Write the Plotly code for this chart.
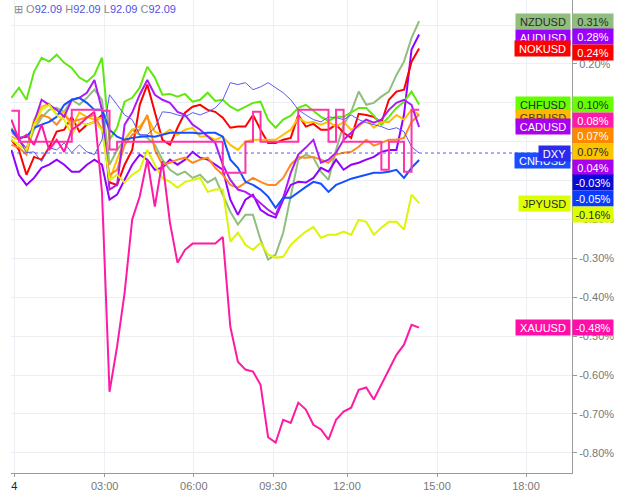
import plotly.graph_objects as go

# ---------------- data ----------------
# 15-minute bars (display index); tick labels placed at their bar position
bars = list(range(55))
x_tick_pos = [0.39, 12.36, 24.16, 34.65, 44.45, 56.37, 68.16]
x_tick_text = ['<span style="color:#222">4</span>', "03:00", "06:00", "09:30", "12:00", "15:00", "18:00"]
y_tick_vals = [-0.8, -0.7, -0.6, -0.5, -0.4, -0.3, -0.2, -0.1, 0.0, 0.1, 0.2, 0.3]
# labels that the reference leaves visible (others sit under the value boxes)
y_tick_shown = [-0.8, -0.7, -0.6, -0.5, -0.4, -0.3, -0.2, 0.2]

nzdusd = [0.036, 0.005, -0.021, 0.031, 0.062, 0.082, 0.087, 0.077, 0.108, 0.095,
          0.113, 0.134, 0.108, -0.059, -0.021, 0.005, 0.031, 0.018, 0.010, -0.008,
          -0.046, -0.072, -0.085, -0.077, -0.093, -0.085, -0.105, -0.093, -0.136, -0.180,
          -0.213, -0.188, -0.188, -0.252, -0.303, -0.290, -0.234, -0.144, -0.046, -0.033,
          -0.041, -0.077, -0.098, -0.021, 0.044, 0.077, 0.129, 0.095, 0.100, 0.116,
          0.129, 0.172, 0.206, 0.267, 0.310]
audusd = [-0.021, -0.085, -0.111, -0.093, -0.067, -0.059, -0.046, -0.059, -0.077, -0.077,
          -0.059, -0.046, -0.059, -0.149, -0.136, -0.098, -0.059, -0.033, -0.046, -0.072,
          -0.067, -0.046, -0.059, -0.046, -0.026, -0.041, -0.046, -0.059, -0.072, -0.149,
          -0.188, -0.149, -0.136, -0.175, -0.188, -0.195, -0.149, -0.111, -0.103, -0.105,
          -0.093, -0.067, -0.077, -0.046, -0.072, -0.059, -0.054, -0.046, -0.039, -0.026,
          -0.021, -0.021, 0.070, 0.237, 0.276]
nokusd = [0.005, -0.021, -0.085, -0.039, -0.046, -0.015, 0.026, 0.031, 0.064, 0.026,
          0.044, 0.051, 0.069, -0.105, -0.111, -0.059, -0.021, 0.095, 0.147, 0.077,
          0.005, -0.008, 0.036, 0.075, 0.090, 0.095, 0.082, 0.077, 0.062, 0.036,
          0.039, 0.039, 0.069, 0.031, -0.003, -0.003, 0.005, 0.010, 0.069, 0.039,
          0.046, 0.031, 0.031, 0.044, 0.023, 0.010, 0.072, 0.069, 0.064, 0.049,
          0.108, 0.129, 0.134, 0.206, 0.240]
chfusd = [0.113, 0.139, 0.108, 0.180, 0.216, 0.206, 0.224, 0.203, 0.190, 0.165,
          0.154, 0.172, 0.216, 0.005, 0.036, 0.103, 0.113, 0.139, 0.193, 0.165,
          0.121, 0.123, 0.116, 0.123, 0.103, 0.108, 0.126, 0.105, 0.108, 0.090,
          0.080, 0.090, 0.100, 0.103, 0.057, 0.036, 0.057, 0.067, 0.087, 0.095,
          0.080, 0.064, 0.054, 0.064, 0.064, 0.075, 0.087, 0.087, 0.067, 0.044,
          0.064, 0.087, 0.103, 0.129, 0.096]
sekusd = [0.080, 0.000, 0.000, 0.000, 0.000, 0.000, 0.000, 0.000, 0.082, 0.082,
          0.082, 0.082, 0.080, -0.020, 0.000, 0.000, 0.000, 0.000, 0.000, 0.000,
          0.000, 0.000, 0.000, 0.000, 0.000, 0.000, 0.000, 0.000, -0.080, -0.080,
          -0.080, 0.000, 0.077, 0.000, 0.000, 0.000, 0.000, 0.000, 0.082, 0.082,
          0.082, 0.082, 0.000, 0.082, 0.000, 0.000, 0.000, 0.000, 0.000, -0.072,
          0.000, 0.000, -0.077, 0.082, 0.082]
eurusd = [-0.008, -0.015, -0.033, 0.044, 0.069, 0.062, 0.044, 0.069, 0.051, 0.057,
          0.062, 0.069, 0.031, -0.085, -0.072, -0.008, 0.018, 0.031, 0.069, -0.021,
          -0.059, -0.054, -0.046, -0.041, -0.054, -0.046, -0.041, -0.067, -0.085, -0.111,
          -0.118, -0.105, -0.093, -0.103, -0.111, -0.111, -0.093, -0.059, -0.039, -0.041,
          -0.039, -0.046, -0.054, -0.033, -0.028, -0.026, -0.013, 0.005, -0.010, -0.003,
          0.005, 0.005, 0.010, 0.051, 0.070]
gbpusd = [0.013, 0.005, -0.021, 0.057, 0.090, 0.098, 0.069, 0.077, 0.036, 0.075,
          0.064, 0.057, 0.062, -0.098, -0.046, 0.005, 0.031, 0.039, 0.064, 0.026,
          0.018, 0.031, 0.018, 0.031, 0.036, 0.013, 0.015, 0.005, 0.013, -0.008,
          -0.021, 0.000, 0.005, 0.005, 0.005, 0.005, 0.018, 0.031, 0.062, 0.049,
          0.051, 0.044, 0.051, 0.039, 0.051, 0.031, 0.039, 0.057, 0.036, 0.051,
          0.051, 0.069, 0.057, 0.082, 0.069]
cadusd = [0.031, 0.005, -0.021, 0.049, 0.108, 0.095, 0.082, 0.064, 0.108, 0.113,
          0.126, 0.159, 0.082, -0.123, -0.111, 0.044, 0.075, 0.121, 0.159, 0.121,
          0.108, 0.100, 0.077, 0.069, 0.044, 0.031, 0.015, -0.003, -0.059, -0.098,
          -0.123, -0.129, -0.141, -0.157, -0.175, -0.188, -0.144, -0.080, -0.033, -0.015,
          0.005, -0.054, -0.046, -0.028, 0.005, 0.023, 0.044, 0.057, 0.049, 0.057,
          0.082, 0.100, 0.108, 0.095, 0.038]
dxy = [0.023, 0.005, -0.028, -0.026, -0.051, -0.015, -0.021, -0.003, -0.028, -0.008,
       -0.026, -0.033, 0.005, 0.121, 0.095, 0.069, 0.057, 0.018, 0.018, 0.036,
       0.077, 0.075, 0.069, 0.064, 0.075, 0.069, 0.077, 0.087, 0.108, 0.152,
       0.147, 0.152, 0.134, 0.141, 0.152, 0.139, 0.126, 0.108, 0.082, 0.069,
       0.057, 0.051, 0.064, 0.062, 0.057, 0.069, 0.057, 0.049, 0.044, 0.039,
       0.031, 0.036, 0.026, -0.013, -0.029]
cnhusd = [0.031, 0.010, 0.013, 0.036, 0.044, 0.051, 0.064, 0.095, 0.108, 0.113,
          0.100, 0.082, 0.082, 0.031, 0.013, 0.005, 0.010, 0.013, 0.015, 0.013,
          0.018, 0.023, 0.023, 0.023, 0.023, 0.021, 0.023, 0.023, 0.013, -0.046,
          -0.067, -0.103, -0.111, -0.123, -0.141, -0.170, -0.144, -0.144, -0.129, -0.116,
          -0.103, -0.108, -0.129, -0.111, -0.103, -0.095, -0.090, -0.085, -0.080, -0.080,
          -0.077, -0.072, -0.093, -0.067, -0.047]
jpyusd = [0.005, -0.008, -0.021, 0.044, 0.082, 0.095, 0.069, 0.057, 0.018, 0.051,
          0.044, 0.051, 0.031, -0.098, -0.085, -0.105, -0.085, -0.072, -0.021, -0.059,
          -0.093, -0.103, -0.118, -0.103, -0.098, -0.093, -0.129, -0.123, -0.123, -0.257,
          -0.234, -0.265, -0.278, -0.260, -0.290, -0.298, -0.296, -0.265, -0.247, -0.231,
          -0.219, -0.247, -0.239, -0.239, -0.231, -0.239, -0.201, -0.206, -0.239, -0.221,
          -0.206, -0.206, -0.226, -0.136, -0.158]
xauusd = [0.057, 0.005, 0.018, -0.008, 0.044, -0.021, 0.005, -0.026, 0.031, 0.044,
          0.062, 0.077, -0.130, -0.643, -0.527, -0.388, -0.200, -0.141, -0.046, -0.167,
          -0.050, -0.208, -0.311, -0.278, -0.262, -0.262, -0.262, -0.262, -0.245, -0.476,
          -0.566, -0.586, -0.591, -0.625, -0.760, -0.774, -0.715, -0.723, -0.671, -0.689,
          -0.728, -0.740, -0.766, -0.715, -0.694, -0.684, -0.638, -0.632, -0.663, -0.625,
          -0.586, -0.548, -0.522, -0.471, -0.478]

# ---------------- styles ----------------
series = [
    dict(name="NZDUSD", data=nzdusd, color="#90BE7C", w=2, shape="linear",
         lbg="#90BE7C", lfg="#2a2a2a", bbg="#90BE7C", bfg="#2a2a2a", show=True, nudge=0),
    dict(name="AUDUSD", data=audusd, color="#9400FF", w=2, shape="linear",
         lbg="#9A00FF", lfg="#ffffff", bbg="#9A00FF", bfg="#ffffff", show=True, nudge=-3),
    dict(name="NOKUSD", data=nokusd, color="#FF0000", w=2, shape="linear",
         lbg="#FF0000", lfg="#ffffff", bbg="#FF0000", bfg="#ffffff", show=True, nudge=0),
    dict(name="CHFUSD", data=chfusd, color="#5EE80E", w=2, shape="linear",
         lbg="#66FF00", lfg="#2a2a2a", bbg="#66FF00", bfg="#2a2a2a", show=True, nudge=0),
    dict(name="GBPUSD", data=gbpusd, color="#FFC000", w=2, shape="linear",
         lbg="#FFB800", lfg="#4a3a10", bbg="#FFC400", bfg="#2a2a2a", show=True, nudge=-3),
    dict(name="EURUSD", data=eurusd, color="#FF8A1C", w=2, shape="linear",
         lbg="#FF8800", lfg="#ffffff", bbg="#FF8800", bfg="#ffffff", show=False, nudge=0),
    dict(name="CADUSD", data=cadusd, color="#AE1AF5", w=2, shape="linear",
         lbg="#AA00F0", lfg="#ffffff", bbg="#AA00F0", bfg="#ffffff", show=True, nudge=0),
    dict(name="CNHUSD", data=cnhusd, color="#1450FF", w=2, shape="linear",
         lbg="#1A4DFF", lfg="#ffffff", bbg="#0A3CFF", bfg="#ffffff", show=True, nudge=0),
    dict(name="JPYUSD", data=jpyusd, color="#DDF500", w=2, shape="linear",
         lbg="#DDFF00", lfg="#2a2a2a", bbg="#DDFF00", bfg="#2a2a2a", show=True, nudge=0),
    dict(name="DXY", data=dxy, color="#5A5AF2", w=1, shape="linear",
         lbg="#2B2BEE", lfg="#ffffff", bbg="#0A0AD6", bfg="#ffffff", show=True, nudge=0),
    dict(name="SEKUSD", data=sekusd, color="#FF33AA", w=2, shape="hv",
         lbg="#FF1AAA", lfg="#ffffff", bbg="#FF1AAA", bfg="#ffffff", show=False, nudge=0),
    dict(name="XAUUSD", data=xauusd, color="#FF1AA3", w=2, shape="linear",
         lbg="#FF0FA8", lfg="#ffffff", bbg="#FF0FA8", bfg="#ffffff", show=True, nudge=0),
]

FONT = "Liberation Sans, Arial, sans-serif"
Y_TOP, Y_BOT = 0.3646, -0.852
X_RANGE = [-0.05, 74.25]
PLOT_H = 473


def to_px(v):
    return (Y_TOP - v) / (Y_TOP - Y_BOT) * PLOT_H


CW = {"A": .667, "C": .722, "D": .722, "F": .611, "H": .722, "J": .5, "K": .667,
      "N": .722, "O": .778, "P": .667, "R": .722, "S": .667, "U": .722, "X": .667,
      "Y": .667, "Z": .611, "E": .667, "G": .778, "B": .667}


def text_w(s, size=11):
    return sum(CW.get(c, .6) for c in s) * size


fig = go.Figure()
for s in series:
    fig.add_trace(go.Scatter(
        x=bars, y=s["data"], mode="lines", name=s["name"],
        line=dict(color=s["color"], width=s["w"], shape=s["shape"]),
        hoverinfo="skip", showlegend=False))

annotations = []

# value boxes on the price axis (stacked so they do not overlap)
order = sorted(range(len(series)), key=lambda i: -series[i]["data"][-1])
prev = -1e9
GAP = 15.7
slots = {}
for i in order:
    p = to_px(series[i]["data"][-1])
    slot = max(p, prev + GAP)
    slots[i] = slot
    prev = slot
for i in order:
    s = series[i]
    v = s["data"][-1]
    annotations.append(dict(
        xref="paper", x=1, xanchor="left", yref="y", y=v, yanchor="middle",
        yshift=-(slots[i] - to_px(v)),
        text=f"{v:.2f}%", showarrow=False, bgcolor=s["bbg"],
        font=dict(family=FONT, size=11, color=s["bfg"]),
        width=40, height=15, borderpad=0, align="center"))

# symbol name labels left of the axis
for s in series:
    if not s["show"]:
        continue
    v = s["data"][-1]
    annotations.append(dict(
        xref="paper", x=1, xanchor="right", xshift=-1, yref="y", y=v, yanchor="middle",
        yshift=s["nudge"], text=s["name"], showarrow=False, bgcolor=s["lbg"],
        font=dict(family=FONT, size=11, color=s["lfg"]),
        width=round(text_w(s["name"]) + 8), height=15, borderpad=0, align="center"))

# OHLC header
num = "#4F4FE6"
lab = "#8a8a8a"
hdr = (f'<span style="color:{lab}">⊞ O</span><span style="color:{num}">92.09</span>'
       f'<span style="color:{lab}"> H</span><span style="color:{num}">92.09</span>'
       f'<span style="color:{lab}"> L</span><span style="color:{num}">92.09</span>'
       f'<span style="color:{lab}"> C</span><span style="color:{num}">92.09</span>')
annotations.append(dict(xref="paper", yref="paper", x=0.002, y=1 - 9 / PLOT_H,
                        xanchor="left", yanchor="middle", text=hdr, showarrow=False,
                        font=dict(family=FONT, size=11)))

grid = "#ECF0F4"
fig.update_layout(
    width=623, height=493,
    margin=dict(l=11, r=51, t=0, b=20, autoexpand=False),
    paper_bgcolor="white", plot_bgcolor="white",
    showlegend=False, hovermode=False,
    xaxis=dict(range=X_RANGE, tickvals=x_tick_pos, ticktext=x_tick_text,
               showgrid=True, gridcolor=grid, gridwidth=1, zeroline=False,
               showline=True, linecolor="#9a9a9a", linewidth=1,
               ticks="outside", ticklen=3, tickcolor="#9a9a9a", automargin=False,
               tickfont=dict(family=FONT, size=11, color="#777")),
    yaxis=dict(range=[Y_BOT, Y_TOP], side="right", tickvals=y_tick_vals,
               ticktext=[f"{v:.2f}%" if v in y_tick_shown else "" for v in y_tick_vals],
               showgrid=True, gridcolor=grid, gridwidth=1, zeroline=False,
               showline=True, linecolor="#9a9a9a", linewidth=1, automargin=False,
               ticks="outside", ticklen=4, tickcolor="#9a9a9a",
               tickfont=dict(family=FONT, size=11, color="#777")),
    annotations=annotations,
    shapes=[dict(type="line", xref="paper", x0=0, x1=1, yref="y",
                 y0=dxy[-1], y1=dxy[-1],
                 line=dict(color="#5A5AF2", width=1, dash="dot"))],
)

fig.write_html("out.html", config={"displayModeBar": False},
               post_script="document.body.style.margin='0px';")
